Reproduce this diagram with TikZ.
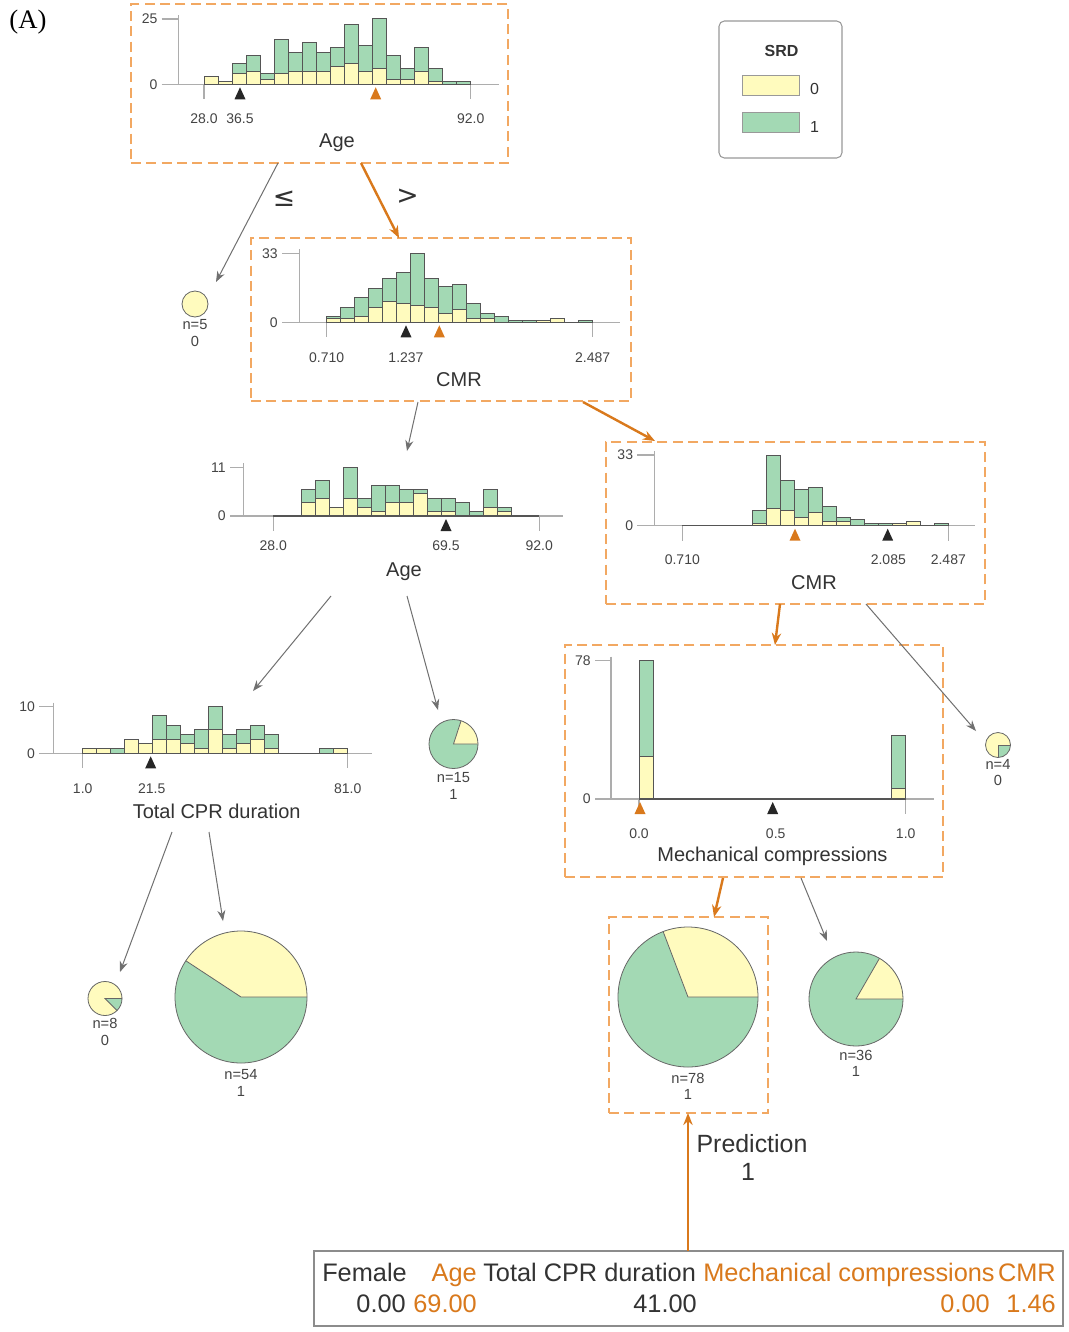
\documentclass[tikz,border=0pt]{standalone}
\usepackage{fontspec}
\setmainfont{Liberation Sans}
\newfontfamily\serifA{Liberation Serif}
\newfontfamily\dvs{DejaVu Sans}
\usetikzlibrary{arrows.meta,fit}
\definecolor{yel}{HTML}{FFFBBE}
\definecolor{grn}{HTML}{A3D9B4}
\definecolor{orn}{HTML}{D9791C}
\definecolor{obox}{HTML}{F2A862}
\definecolor{txt}{HTML}{333333}
\definecolor{tl}{HTML}{444444}
\definecolor{axg}{HTML}{ADADAD}
\definecolor{barc}{HTML}{555555}
\definecolor{conn}{HTML}{707070}
\definecolor{piec}{HTML}{666666}
\newcommand{\fsz}[1]{\fontsize{#1pt}{#1pt}\selectfont}
% axes: #1 yaxis x, #2 axis left, #3 axis right, #4 base, #5 top, #6 top label, #7 xmin, #8 xmax, #9 name prefix
\newcommand{\haxes}[9]{%
 \draw[axl] (#2,#5) -- (#1,#5);
 \draw[axl] (#1,{#5-4}) -- (#1,#4);
 \draw[axl] (#2,#4) -- (#3,#4);
 \draw[axl] (#7,#4) -- (#7,{#4+15});
 \draw[axl] (#8,#4) -- (#8,{#4+15});
 \node[ticklab, anchor=east] (#9top) at ({#2-4},#5) {#6};
 \node[ticklab, anchor=east] (#9zero) at ({#2-4},#4) {0};
}
% bars: #1 xmin, #2 base, #3 bin width, #4 px per unit, #5 list total/yellow
\newcommand{\hbars}[5]{%
 \foreach \tv/\yv [count=\i from 0] in {#5}{%
   \pgfmathsetmacro{\xa}{#1+\i*#3}%
   \pgfmathsetmacro{\xb}{#1+(\i+1)*#3}%
   \pgfmathsetmacro{\ya}{#2-\tv*#4}%
   \pgfmathsetmacro{\yb}{#2-\yv*#4}%
   \ifdim\tv pt>0pt \draw[barst, fill=grn] (\xa,#2) rectangle (\xb,\ya);\fi
   \ifdim\yv pt>0pt \draw[barst, fill=yel] (\xa,#2) rectangle (\xb,\yb);\fi
 }%
 \draw[baseln] (#1,#2) -- ({#1+19*#3},#2);
}
\newcommand{\tri}[3]{\fill[#3] (#1,{#2+3}) -- ({#1-5.5},{#2+15}) -- ({#1+5.5},{#2+15}) -- cycle;}
% pie: cx, cy, r, yellow angle, name
\newcommand{\pie}[5]{%
 \pgfmathsetmacro{\pd}{1.5*#3}%
 \node[circle, inner sep=0, minimum size=\pd pt] (#5) at (#1,#2) {};
 \begin{scope}[shift={(#1,#2)},x=0.75pt,y=0.75pt]
  \fill[grn] (0,0) circle (#3);
  \fill[yel] (0,0) -- (0:#3) arc[start angle=0, end angle=#4, radius=#3] -- cycle;
  \ifdim#4pt<360pt \draw[pieln] (#4:#3) -- (0,0) -- (0:#3);\fi
  \draw[pieln] (0,0) circle (#3);
 \end{scope}}
\begin{document}
\begin{tikzpicture}[x=0.75pt,y=-0.75pt,
 barst/.style={draw=barc, line width=0.75pt},
 baseln/.style={draw=barc, line width=1pt},
 axl/.style={draw=axg, line width=0.9pt},
 obx/.style={draw=obox, dash pattern=on 7.5pt off 4pt, line width=1.3pt, inner sep=0},
 garr/.style={draw=conn, line width=0.75pt, -{Stealth[length=8pt,width=6pt]}},
 oarr/.style={draw=orn, line width=1.8pt, -{Stealth[length=9pt,width=7pt]}},
 ticklab/.style={text=tl, font=\fsz{10.5}, inner sep=0},
 ttl/.style={text=txt, font=\fsz{15}, inner sep=0},
 nlab/.style={text=tl, font=\fsz{11}, inner sep=0},
 pieln/.style={draw=piec, line width=0.6pt},
 tbl/.style={font=\fsz{19}, inner sep=0},
]
\fill[white] (0,0) rectangle (1068,1332);
\useasboundingbox (0,0) rectangle (1068,1332);

\node[font=\serifA\fsz{20}, inner sep=0] (lblA) at (28,22) {(A)};

% ---------- H1: Age (top)
\node[obx, fit={(131,4) (508,163)}] (boxAge) {};
\haxes{178.3}{161.7}{499}{84.3}{19}{25}{204}{470.7}{hA}
\hbars{204}{84.3}{14.04}{2.613}{3/3,1/1,8/4,11/5,4/2,17/4,12/5,16/5,12/5,14/7,23/8,15/5,25/6,11/2,6/2,14/5,6/1,1/0,1/0}
\tri{240}{84.3}{black!85}
\tri{375.7}{84.3}{orn}
\node[ticklab] (hAl1) at (204,119) {28.0};
\node[ticklab] (hAl2) at (240,119) {36.5};
\node[ticklab] (hAl3) at (470.7,119) {92.0};
\node[ttl] (hAt) at (337,143) {Age};

% ---------- legend
\node[draw=black!40, line width=0.8pt, rounded corners=4pt, inner sep=0, fit={(719,21) (842,158)}] (legend) {};
\node[font=\bfseries\fsz{12}, text=txt, inner sep=0] (legT) at (781.5,51) {SRD};
\node[draw=black!40, fill=yel, line width=0.7pt, inner sep=0, fit={(742,75) (799,95)}] (sw0) {};
\node[draw=black!40, fill=grn, line width=0.7pt, inner sep=0, fit={(742,112) (799,132)}] (sw1) {};
\node[font=\fsz{12}, text=txt, inner sep=0] (lg0) at (814.5,89) {0};
\node[font=\fsz{12}, text=txt, inner sep=0] (lg1) at (814.5,127) {1};

% ---------- split labels
\node[font=\dvs\fsz{20}, text=txt, inner sep=0] (le) at (284,199) {≤};
\node[font=\dvs\fsz{20}, text=txt, inner sep=0] (gt) at (407.5,197) {>};

% ---------- pie n=5
\pie{195}{304}{13}{360}{p5}
\node[nlab] (p5n) at (195,325) {n=5};
\node[nlab] (p5c) at (195,341) {0};

% ---------- H2: CMR (middle)
\node[obx, fit={(251,238) (631,401)}] (boxCMR1) {};
\haxes{299.3}{282}{620}{322.3}{253.3}{33}{326.7}{592.7}{hB}
\hbars{326.7}{322.3}{14.0}{2.091}{3/2,7/2,12/3,16/7,21/10,24/9,33/8,21/7,17/4,18/6,9/2,4/2,3/0,1/0,1/0,1/1,2/2,0/0,1/0}
\tri{406}{322.3}{black!85}
\tri{439.3}{322.3}{orn}
\node[ticklab] (hBl1) at (326.7,358) {0.710};
\node[ticklab] (hBl2) at (406,358) {1.237};
\node[ticklab] (hBl3) at (592.7,358) {2.487};
\node[ttl] (hBt) at (459,380) {CMR};

% ---------- H3: Age (middle)
\haxes{243.3}{230}{563}{516}{467.3}{11}{273.3}{539.3}{hC}
\hbars{273.3}{516}{14.0}{4.424}{0/0,0/0,6/3,8/4,2/2,11/4,4/2,7/1,7/3,6/3,6/5,4/1,4/1,3/0,1/0,6/2,2/1,0/0,0/0}
\tri{446}{516}{black!85}
\node[ticklab] (hCl1) at (273.3,546) {28.0};
\node[ticklab] (hCl2) at (446,546) {69.5};
\node[ticklab] (hCl3) at (539.3,546) {92.0};
\node[ttl] (hCt) at (404,572) {Age};

% ---------- H4: CMR (right)
\node[obx, fit={(606,442) (985,604)}] (boxCMR2) {};
\haxes{654.3}{637.3}{975}{525.7}{455}{33}{682.3}{948.3}{hD}
\hbars{682.3}{525.7}{14.0}{2.141}{0/0,0/0,0/0,0/0,0/0,7/1,33/8,21/7,17/4,18/6,9/2,4/2,3/0,1/0,1/0,1/1,2/2,0/0,1/0}
\tri{795}{525.7}{orn}
\tri{887.7}{525.7}{black!85}
\node[ticklab] (hDl1) at (682.3,560) {0.710};
\node[ticklab] (hDl2) at (888.3,560) {2.085};
\node[ticklab] (hDl3) at (948.3,560) {2.487};
\node[ttl] (hDt) at (814,583) {CMR};

% ---------- H5: Total CPR duration
\haxes{53.3}{39.3}{371.7}{753.3}{706.7}{10}{82.7}{347.7}{hE}
\hbars{82.7}{753.3}{13.95}{4.667}{1/1,1/1,1/0,3/3,2/2,8/3,6/3,4/2,5/1,10/5,4/1,5/2,6/3,4/1,0/0,0/0,0/0,1/0,1/1}
\tri{150.7}{753.3}{black!85}
\node[ticklab] (hEl1) at (82.7,789) {1.0};
\node[ticklab] (hEl2) at (151.7,789) {21.5};
\node[ticklab] (hEl3) at (347.7,789) {81.0};
\node[ttl] (hEt) at (216.7,811) {Total CPR duration};

% ---------- pie n=15
\pie{453.5}{744}{24.5}{72}{p15}
\node[nlab] (p15n) at (453.5,778) {n=15};
\node[nlab] (p15c) at (453.5,794) {1};

% ---------- pie n=4
\pie{998}{745}{12.5}{270}{p4}
\node[nlab] (p4n) at (998,764) {n=4};
\node[nlab] (p4c) at (998,780) {0};

% ---------- H6: Mechanical compressions
\node[obx, fit={(565,645) (943,877)}] (boxMech) {};
\haxes{611}{595}{934.3}{799}{660.7}{78}{639}{905.7}{hF}
\hbars{639}{799}{14.04}{1.7735}{78/24,0/0,0/0,0/0,0/0,0/0,0/0,0/0,0/0,0/0,0/0,0/0,0/0,0/0,0/0,0/0,0/0,0/0,36/6}
\tri{640}{799}{orn}
\tri{772.7}{799}{black!85}
\node[ticklab] (hFl1) at (639,834) {0.0};
\node[ticklab] (hFl2) at (775.7,834) {0.5};
\node[ticklab] (hFl3) at (905.7,834) {1.0};
\node[ttl] (hFt) at (772.5,856) {Mechanical compressions};

% ---------- leaves
\pie{105}{998.5}{17}{315}{p8}
\node[nlab] (p8n) at (105,1023) {n=8};
\node[nlab] (p8c) at (105,1040) {0};
\pie{241}{997}{66}{146.7}{p54}
\node[nlab] (p54n) at (241,1075) {n=54};
\node[nlab] (p54c) at (241,1091) {1};
\node[obx, fit={(609,917) (768,1113)}] (boxPred) {};
\pie{688}{997}{70}{110.8}{p78}
\node[nlab] (p78n) at (688,1078) {n=78};
\node[nlab] (p78c) at (688,1094) {1};
\pie{856}{999}{47}{60}{p36}
\node[nlab] (p36n) at (856,1055) {n=36};
\node[nlab] (p36c) at (856,1071) {1};

% ---------- prediction
\node[font=\fsz{18.7}, text=txt, inner sep=0] (predT) at (752,1144) {Prediction};
\node[font=\fsz{18.7}, text=txt, inner sep=0] (predV) at (748,1172) {1};

% ---------- table
\node[draw=black!45, line width=1.2pt, inner sep=0, fit={(314,1251) (1063,1326)}] (table) {};
\node[tbl, text=txt, anchor=base west] (tF) at (322,1281) {Female};
\node[tbl, text=orn, anchor=base east] (tA) at (477,1281) {Age};
\node[tbl, text=txt, anchor=base west] (tT) at (483,1281) {Total CPR duration};
\node[tbl, text=orn, anchor=base west] (tM) at (703,1281) {Mechanical compressions};
\node[tbl, text=orn, anchor=base east] (tC) at (1056,1281) {CMR};
\node[tbl, text=txt, anchor=base east] (vF) at (406,1312) {0.00};
\node[tbl, text=orn, anchor=base east] (vA) at (477,1312) {69.00};
\node[tbl, text=txt, anchor=base east] (vT) at (697,1312) {41.00};
\node[tbl, text=orn, anchor=base east] (vM) at (990,1312) {0.00};
\node[tbl, text=orn, anchor=base east] (vC) at (1056,1312) {1.46};

% ---------- connectors
\coordinate (c1s) at (278,163);  \coordinate (c1e) at (216,282);
\coordinate (c2s) at (361,163);  \coordinate (c2e) at (399,238);
\coordinate (c3s) at (418,402);  \coordinate (c3e) at (407,451);
\coordinate (c4s) at (583,402);  \coordinate (c4e) at (655,441);
\coordinate (c5s) at (331,596);  \coordinate (c5e) at (253,691);
\coordinate (c6s) at (407,596);  \coordinate (c6e) at (438,710);
\coordinate (c7s) at (780,604);  \coordinate (c7e) at (775,645);
\coordinate (c8s) at (866,604);  \coordinate (c8e) at (976,731);
\coordinate (c9s) at (172,832);  \coordinate (c9e) at (120,972);
\coordinate (c10s) at (209,832); \coordinate (c10e) at (223,921);
\coordinate (c11s) at (723,878); \coordinate (c11e) at (714,917);
\coordinate (c12s) at (801,878); \coordinate (c12e) at (827,941);
\coordinate (c13s) at (688,1251); \coordinate (c13e) at (688,1113);
\draw[garr] (c1s) -- (c1e);
\draw[oarr] (c2s) -- (c2e);
\draw[garr] (c3s) -- (c3e);
\draw[oarr] (c4s) -- (c4e);
\draw[garr] (c5s) -- (c5e);
\draw[garr] (c6s) -- (c6e);
\draw[oarr] (c7s) -- (c7e);
\draw[garr] (c8s) -- (c8e);
\draw[garr] (c9s) -- (c9e);
\draw[garr] (c10s) -- (c10e);
\draw[oarr] (c11s) -- (c11e);
\draw[garr] (c12s) -- (c12e);
\draw[oarr] (c13s) -- (c13e);
\end{tikzpicture}
\end{document}
